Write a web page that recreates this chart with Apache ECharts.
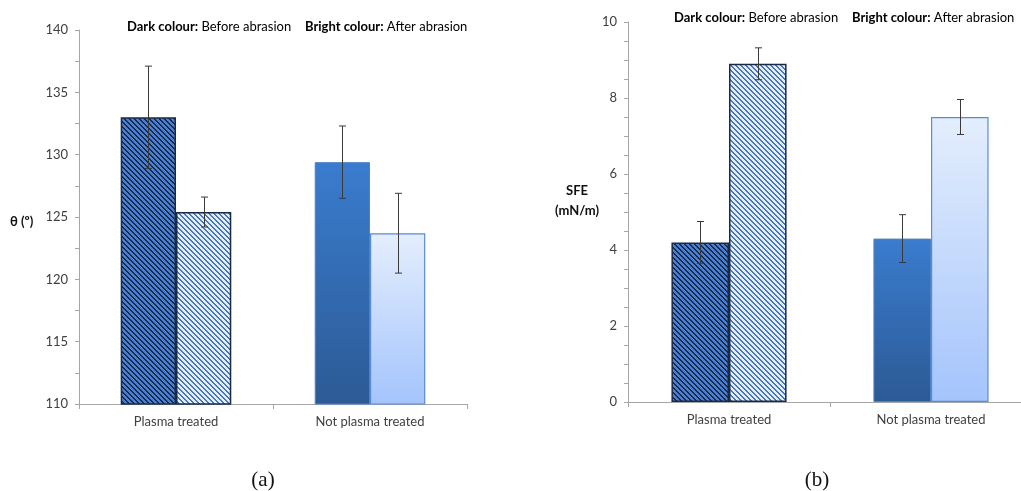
<!DOCTYPE html>
<html>
<head>
<meta charset="utf-8">
<script src="https://cdn.jsdelivr.net/npm/echarts@6/dist/echarts.min.js"></script>
<style>
html,body{margin:0;padding:0;background:#fff;}
#main{width:1021px;height:491px;}
</style>
</head>
<body>
<div id="main"></div>
<script>
// ---- data ----
const categories = ['Plasma treated', 'Not plasma treated'];
const thetaBefore = [133.0, 129.4];
const thetaAfter = [125.4, 123.7];
const thetaBeforeErr = [4.1, 2.9];
const thetaAfterErr = [1.2, 3.2];
const sfeBefore = [4.2, 4.3];
const sfeAfter = [8.9, 7.5];
const sfeBeforeErr = [0.55, 0.63];
const sfeAfterErr = [0.42, 0.46];
const thetaTicks = {min: 110, max: 140, interval: 5};
const sfeTicks = {min: 0, max: 10, interval: 2};

// ---- styles ----
function stripePattern(base, stripe) {
  const n = 5;
  const c = document.createElement('canvas');
  c.width = n; c.height = n;
  const g = c.getContext('2d');
  g.fillStyle = base; g.fillRect(0, 0, n, n);
  g.fillStyle = stripe;
  for (let i = 0; i < n; i++) {
    g.fillRect(i, i, 1, 1);
    g.fillRect((i + 1) % n, i, 1, 1);
  }
  return {image: c, repeat: 'repeat'};
}
const darkPattern = stripePattern('#4a80d2', '#182a4e');
const brightPattern = stripePattern('#e4edfa', '#4676c0');
const darkGrad = new echarts.graphic.LinearGradient(0, 0, 0, 1, [
  {offset: 0, color: '#3a7cce'}, {offset: 1, color: '#2c5a95'}]);
const brightGrad = new echarts.graphic.LinearGradient(0, 0, 0, 1, [
  {offset: 0, color: '#e4eefc'}, {offset: 1, color: '#a4c4fc'}]);

const styleBefore = [
  {color: darkPattern, borderColor: '#1a2a45', borderWidth: 1.5},
  {color: darkGrad, borderColor: '#4f82c4', borderWidth: 1}
];
const styleAfter = [
  {color: brightPattern, borderColor: '#1a2a45', borderWidth: 1.5},
  {color: brightGrad, borderColor: '#5a8cd6', borderWidth: 1.2}
];

const GAP = 0.43;
const FONT = 'Lato, "Open Sans", sans-serif';

function barData(vals, styles) {
  return vals.map((v, i) => ({value: v, itemStyle: styles[i]}));
}
function errData(vals, errs) {
  return vals.map((v, i) => [i, v, errs[i]]);
}
function errRender(side) {
  return function (params, api) {
    const i = api.value(0), v = api.value(1), e = api.value(2);
    const catW = api.size([1, 0])[0];
    const barW = catW * (1 - GAP) / 2;
    const top = api.coord([i, v + e]);
    const bot = api.coord([i, v - e]);
    const x = Math.round(top[0] + side * barW / 2) + 0.5;
    const cap = 3.5;
    const st = {stroke: '#3a3a3a', lineWidth: 1};
    return {
      type: 'group',
      children: [
        {type: 'line', shape: {x1: x, y1: top[1], x2: x, y2: bot[1]}, style: st},
        {type: 'line', shape: {x1: x - cap, y1: top[1], x2: x + cap, y2: top[1]}, style: st},
        {type: 'line', shape: {x1: x - cap, y1: bot[1], x2: x + cap, y2: bot[1]}, style: st}
      ]
    };
  };
}

const axisLineStyle = {lineStyle: {color: '#a6a6a6', width: 1}};

function xAxis(gridIndex) {
  return {
    type: 'category', gridIndex, data: categories,
    axisLine: {show: true, ...axisLineStyle},
    axisTick: {show: true, length: 5, lineStyle: {color: '#a6a6a6'}},
    axisLabel: {margin: 11, fontFamily: FONT, fontSize: 13, color: '#404040'}
  };
}
function yAxis(gridIndex, t, minorSplit) {
  return {
    type: 'value', gridIndex, min: t.min, max: t.max, interval: t.interval,
    axisLine: {show: true, ...axisLineStyle},
    axisTick: {show: true, length: 4, lineStyle: {color: '#a6a6a6'}},
    minorTick: {show: true, splitNumber: minorSplit, length: 4, lineStyle: {color: '#a6a6a6'}},
    splitLine: {show: false},
    axisLabel: {margin: 11, fontFamily: FONT, fontSize: 13, color: '#404040'}
  };
}

const chart = echarts.init(document.getElementById('main'), null, {renderer: 'canvas'});
const legendRich = {
  b: {fontFamily: FONT, fontSize: 13, fontWeight: 'bold', color: '#111'},
  n: {fontFamily: FONT, fontSize: 13, color: '#111'}
};
chart.setOption({
  animation: false,
  grid: [
    {left: 79, top: 30, width: 388, height: 374, outerBoundsMode: 'none', containLabel: false},
    {left: 628, top: 22, width: 404, height: 380, outerBoundsMode: 'none', containLabel: false}
  ],
  xAxis: [xAxis(0), xAxis(1)],
  yAxis: [yAxis(0, thetaTicks, 2), yAxis(1, sfeTicks, 4)],
  series: [
    {type: 'bar', xAxisIndex: 0, yAxisIndex: 0, data: barData(thetaBefore, styleBefore),
      barGap: '0%', barCategoryGap: (GAP * 100) + '%'},
    {type: 'bar', xAxisIndex: 0, yAxisIndex: 0, data: barData(thetaAfter, styleAfter),
      barGap: '0%', barCategoryGap: (GAP * 100) + '%'},
    {type: 'bar', xAxisIndex: 1, yAxisIndex: 1, data: barData(sfeBefore, styleBefore),
      barGap: '0%', barCategoryGap: (GAP * 100) + '%'},
    {type: 'bar', xAxisIndex: 1, yAxisIndex: 1, data: barData(sfeAfter, styleAfter),
      barGap: '0%', barCategoryGap: (GAP * 100) + '%'},
    {type: 'custom', xAxisIndex: 0, yAxisIndex: 0, data: errData(thetaBefore, thetaBeforeErr),
      renderItem: errRender(-1), z: 5},
    {type: 'custom', xAxisIndex: 0, yAxisIndex: 0, data: errData(thetaAfter, thetaAfterErr),
      renderItem: errRender(1), z: 5},
    {type: 'custom', xAxisIndex: 1, yAxisIndex: 1, data: errData(sfeBefore, sfeBeforeErr),
      renderItem: errRender(-1), z: 5},
    {type: 'custom', xAxisIndex: 1, yAxisIndex: 1, data: errData(sfeAfter, sfeAfterErr),
      renderItem: errRender(1), z: 5}
  ],
  graphic: [
    {type: 'text', left: 127, top: 20, style: {text: '{b|Dark colour:} {n|Before abrasion}', rich: legendRich}},
    {type: 'text', left: 305, top: 20, style: {text: '{b|Bright colour:} {n|After abrasion}', rich: legendRich}},
    {type: 'text', left: 674, top: 11, style: {text: '{b|Dark colour:} {n|Before abrasion}', rich: legendRich}},
    {type: 'text', left: 852, top: 11, style: {text: '{b|Bright colour:} {n|After abrasion}', rich: legendRich}},
    {type: 'text', left: 10, top: 215, style: {text: 'θ (º)', fontFamily: FONT, fontSize: 13, fontWeight: 'bold', fill: '#111'}},
    {type: 'text', x: 577, y: 181, style: {text: 'SFE\n(mN/m)', fontFamily: FONT, fontSize: 13, fontWeight: 'bold', fill: '#111', align: 'center', lineHeight: 20}},
    {type: 'text', x: 263, y: 480, style: {text: '(a)', fontFamily: '"Liberation Serif", serif', fontSize: 21, fill: '#111', align: 'center', verticalAlign: 'middle'}},
    {type: 'text', x: 817, y: 480, style: {text: '(b)', fontFamily: '"Liberation Serif", serif', fontSize: 21, fill: '#111', align: 'center', verticalAlign: 'middle'}}
  ]
});
</script>
</body>
</html>
